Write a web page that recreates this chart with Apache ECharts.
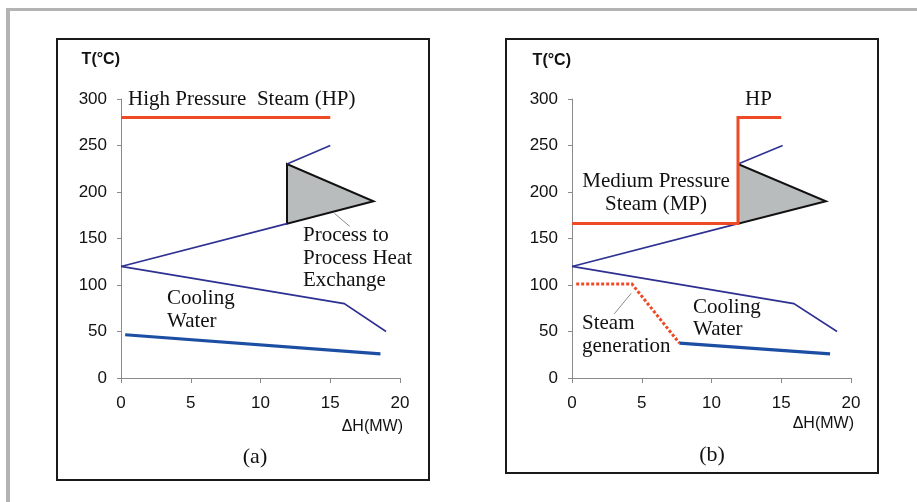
<!DOCTYPE html>
<html>
<head>
<meta charset="utf-8">
<script src="https://cdn.jsdelivr.net/npm/echarts@6/dist/echarts.min.js"></script>
<style>html,body{margin:0;padding:0;background:#fff}#c{width:917px;height:502px}</style>
</head>
<body>
<div id="c"></div>
<script>
// ---- data (ΔH in MW, T in °C) ----
const xTicks = [0, 5, 10, 15, 20];
const yTicks = [0, 50, 100, 150, 200, 250, 300];
// panel (a)
const hpA = [[0, 280], [15, 280]];
const hotLowerA = [[0, 120], [11.9, 166]];
const hotUpperA = [[11.9, 230], [15, 250]];
const coldA = [[0, 120], [16, 80], [19, 50]];
const pocketA = [[11.9, 166], [11.9, 230], [18.1, 190]];
const coolingA = [[0.3, 46.5], [18.6, 26]];
const leaderA = [[16.4, 163], [15.3, 177]];
// panel (b)
const mpHpB = [[0, 166], [11.9, 166], [11.9, 280], [15, 280]];
const hotLowerB = [[0, 120], [11.9, 166]];
const hotUpperB = [[11.9, 230], [15.1, 250]];
const coldB = [[0, 120], [15.9, 80], [19, 50]];
const pocketB = [[11.9, 166], [11.9, 230], [18.2, 190]];
const steamGenB = [[0.3, 101], [4.3, 101], [7.7, 37.5]];
const coolingB = [[7.7, 37.5], [18.5, 26]];
const leaderB = [[4.24, 91], [3.03, 69]];

const RED = '#ef4a26', NAVY = '#2e3192', BLUE = '#1c4fa3', GREY = '#8a8a8a';
const chart = echarts.init(document.getElementById('c'), null, {renderer: 'canvas'});

function xAx(i) {
  return {gridIndex: i, type: 'value', min: xTicks[0], max: xTicks[xTicks.length - 1], interval: 5,
    axisLine: {show: true, lineStyle: {color: GREY, width: 1}},
    axisTick: {show: true, length: 5, lineStyle: {color: GREY}},
    splitLine: {show: false},
    axisLabel: {fontFamily: 'Liberation Sans', fontSize: 17, color: '#111', margin: 17}};
}
function yAx(i) {
  return {gridIndex: i, type: 'value', min: yTicks[0], max: yTicks[yTicks.length - 1], interval: 50,
    axisLine: {show: true, lineStyle: {color: GREY, width: 1}},
    axisTick: {show: true, length: 4, lineStyle: {color: GREY}},
    splitLine: {show: false},
    axisLabel: {fontFamily: 'Liberation Sans', fontSize: 17, color: '#111', margin: 14}};
}
function line(idx, data, color, width, type, z) {
  return {type: 'line', xAxisIndex: idx, yAxisIndex: idx, data: data, symbol: 'none', silent: true,
    lineStyle: {color: color, width: width, type: type || 'solid', cap: 'butt', join: 'miter'}, z: z || 2, animation: false};
}
function pocket(idx, pts) {
  return {type: 'custom', xAxisIndex: idx, yAxisIndex: idx, data: [pts[0]], z: 1, silent: true, animation: false,
    renderItem: function (params, api) {
      return {type: 'polygon', shape: {points: pts.map(p => api.coord(p))},
        style: {fill: '#b8bcbd', stroke: '#111', lineWidth: 2, lineJoin: 'miter'}};
    }};
}
const serif = 'Liberation Serif', sans = 'Liberation Sans';
function txt(x, y, text, opts) {
  return Object.assign({type: 'text', x: x, y: y, z: 10, silent: true,
    style: Object.assign({text: text, fontFamily: serif, fontSize: 21, fill: '#111', textAlign: 'left', textVerticalAlign: 'middle'}, opts || {})});
}

chart.setOption({
  animation: false,
  grid: [
    {left: 121, top: 99, width: 279, height: 279},
    {left: 572, top: 99, width: 279, height: 279}
  ],
  xAxis: [xAx(0), xAx(1)],
  yAxis: [yAx(0), yAx(1)],
  series: [
    pocket(0, pocketA),
    line(0, hpA, RED, 3),
    line(0, hotLowerA, NAVY, 1.6),
    line(0, hotUpperA, NAVY, 1.6),
    line(0, coldA, NAVY, 1.6),
    line(0, coolingA, BLUE, 3.2),
    line(0, leaderA, '#8a8a8a', 1),
    pocket(1, pocketB),
    line(1, mpHpB, RED, 3, 'solid', 3),
    line(1, hotLowerB, NAVY, 1.6),
    line(1, hotUpperB, NAVY, 1.6),
    line(1, coldB, NAVY, 1.6),
    line(1, steamGenB, RED, 3, [3, 2]),
    line(1, coolingB, BLUE, 3.2),
    line(1, leaderB, '#8a8a8a', 1)
  ],
  graphic: [
    // outer frame
    {type: 'rect', shape: {x: 6, y: 8, width: 911, height: 3}, style: {fill: '#b3b3b3'}, silent: true},
    {type: 'rect', shape: {x: 6, y: 8, width: 4, height: 494}, style: {fill: '#b3b3b3'}, silent: true},
    // panel boxes
    {type: 'rect', shape: {x: 57, y: 39, width: 372, height: 441}, style: {fill: null, stroke: '#1a1a1a', lineWidth: 2}, silent: true},
    {type: 'rect', shape: {x: 506, y: 39, width: 372, height: 434}, style: {fill: null, stroke: '#1a1a1a', lineWidth: 2}, silent: true},
    // panel (a) texts
    txt(120, 60, 'T(°C)', {fontFamily: sans, fontWeight: 'bold', fontSize: 16, textAlign: 'right'}),
    txt(128, 99, 'High Pressure  Steam (HP)'),
    txt(303, 258, 'Process to\nProcess Heat\nExchange', {lineHeight: 22.5}),
    txt(167, 310, 'Cooling\nWater', {lineHeight: 22.7}),
    txt(403, 427, 'ΔH(MW)', {fontFamily: sans, fontSize: 16, textAlign: 'right'}),
    txt(255, 457, '(a)', {fontSize: 22, textAlign: 'center'}),
    // panel (b) texts
    txt(571, 60.5, 'T(°C)', {fontFamily: sans, fontWeight: 'bold', fontSize: 16, textAlign: 'right'}),
    txt(745, 99, 'HP'),
    txt(656, 193, 'Medium Pressure\nSteam (MP)', {lineHeight: 22.3, textAlign: 'center'}),
    txt(582, 335, 'Steam\ngeneration', {lineHeight: 23.4}),
    txt(693, 318.6, 'Cooling\nWater', {lineHeight: 22.7}),
    txt(854, 423.5, 'ΔH(MW)', {fontFamily: sans, fontSize: 16, textAlign: 'right'}),
    txt(712, 455, '(b)', {fontSize: 22, textAlign: 'center'})
  ]
});
</script>
</body>
</html>
